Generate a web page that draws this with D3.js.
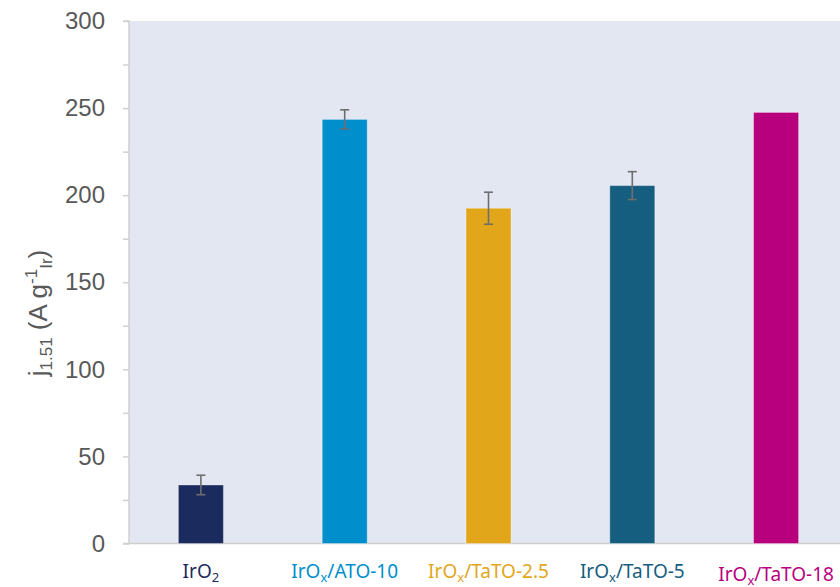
<!DOCTYPE html>
<html><head><meta charset="utf-8">
<script src="https://cdn.jsdelivr.net/npm/d3@7"></script>
<style>body{margin:0;background:#fff;}svg{display:block;}</style>
</head><body>
<svg id="chart" width="840" height="587"></svg>
<script>
const categories = ["IrO2", "IrOx/ATO-10", "IrOx/TaTO-2.5", "IrOx/TaTO-5", "IrOx/TaTO-18"];
const values = [33.6, 243.5, 192.5, 205.5, 247.5];
const errors = [5.6, 5.5, 9.2, 8.0, 0];
const colors = ["#1c2b5e", "#008fcc", "#e2a61b", "#155e80", "#b8007e"];
const yTicks = [0, 50, 100, 150, 200, 250, 300];
const yMinorTicks = [25, 75, 125, 175, 225, 275];

const svg = d3.select("#chart");
const x = d3.scaleBand().domain(categories).range([129, 848]).paddingInner(0.687).paddingOuter(0.3435);
const y = d3.scaleLinear().domain([0, 300]).range([543.5, 21]);

// plot background
svg.append("rect").attr("x", x.range()[0]).attr("y", y(300))
  .attr("width", 840 - x.range()[0]).attr("height", y(0) - y(300)).attr("fill", "#e3e7f2");

// y axis
const yAxis = d3.axisLeft(y).tickValues(yTicks.concat(yMinorTicks)).tickSize(6).tickPadding(18)
  .tickFormat(d => yTicks.includes(d) ? d : "");
const gy = svg.append("g").attr("transform", `translate(${x.range()[0]},0)`).call(yAxis);
gy.select(".domain").attr("stroke", "#d0d0d0").attr("stroke-width", 1.5).attr("d", `M-6,${y(300)}H0V${y(0)}H-6`);
gy.selectAll(".tick line").attr("stroke", "#d0d0d0").attr("stroke-width", 1.5);
gy.selectAll(".tick text").attr("fill", "#595959").style("font-family", "'Liberation Sans', Arial, sans-serif").style("font-size", "24px");

// x axis baseline
svg.append("line").attr("x1", x.range()[0]).attr("x2", 840).attr("y1", y(0)).attr("y2", y(0))
  .attr("stroke", "#d0d0d0").attr("stroke-width", 1.5);

// bars
svg.selectAll(".bar").data(categories).enter().append("rect")
  .attr("x", d => x(d)).attr("width", x.bandwidth())
  .attr("y", (d, i) => y(values[i])).attr("height", (d, i) => y(0) - y(values[i]))
  .attr("fill", (d, i) => colors[i])
  .attr("stroke", "rgba(255,255,255,0.35)").attr("stroke-width", 1);

// error bars
const eb = svg.append("g").attr("stroke", "#6e6e6e").attr("stroke-width", 1.6);
categories.forEach((c, i) => {
  if (!errors[i]) return;
  const cx = x(c) + x.bandwidth() / 2;
  const hi = y(values[i] + errors[i]), lo = y(values[i] - errors[i]);
  eb.append("line").attr("x1", cx).attr("x2", cx).attr("y1", hi).attr("y2", lo);
  eb.append("line").attr("x1", cx - 4.5).attr("x2", cx + 4.5).attr("y1", hi).attr("y2", hi);
  eb.append("line").attr("x1", cx - 4.5).attr("x2", cx + 4.5).attr("y1", lo).attr("y2", lo);
});

// x labels
categories.forEach((c, i) => {
  const t = svg.append("text")
    .attr("x", x(c) + x.bandwidth() / 2).attr("y", 578 + (i === 4 ? 2.5 : 0))
    .attr("text-anchor", "middle").attr("fill", colors[i])
    .style("font-family", "'Noto Sans', 'Open Sans', sans-serif").style("font-size", "19px");
  t.append("tspan").text(c.slice(0, 3));
  t.append("tspan").attr("font-size", "13px").attr("dy", 4).text(c.slice(3, 4));
  t.append("tspan").attr("dy", -4).text(c.slice(4));
});

// y label
const yl = svg.append("text").attr("transform", "translate(47,313) rotate(-90)")
  .attr("text-anchor", "middle").attr("fill", "#595959")
  .style("font-family", "'Liberation Sans', Arial, sans-serif").style("font-size", "26px");
yl.append("tspan").text("j");
yl.append("tspan").attr("font-size", "17px").attr("dy", 5).text("1.51");
yl.append("tspan").attr("dy", -5).text(" (A g");
yl.append("tspan").attr("font-size", "17px").attr("dy", -10).text("-1");
yl.append("tspan").attr("font-size", "17px").attr("dy", 15).text("Ir");
yl.append("tspan").attr("dy", -5).text(")");
</script>
</body></html>
